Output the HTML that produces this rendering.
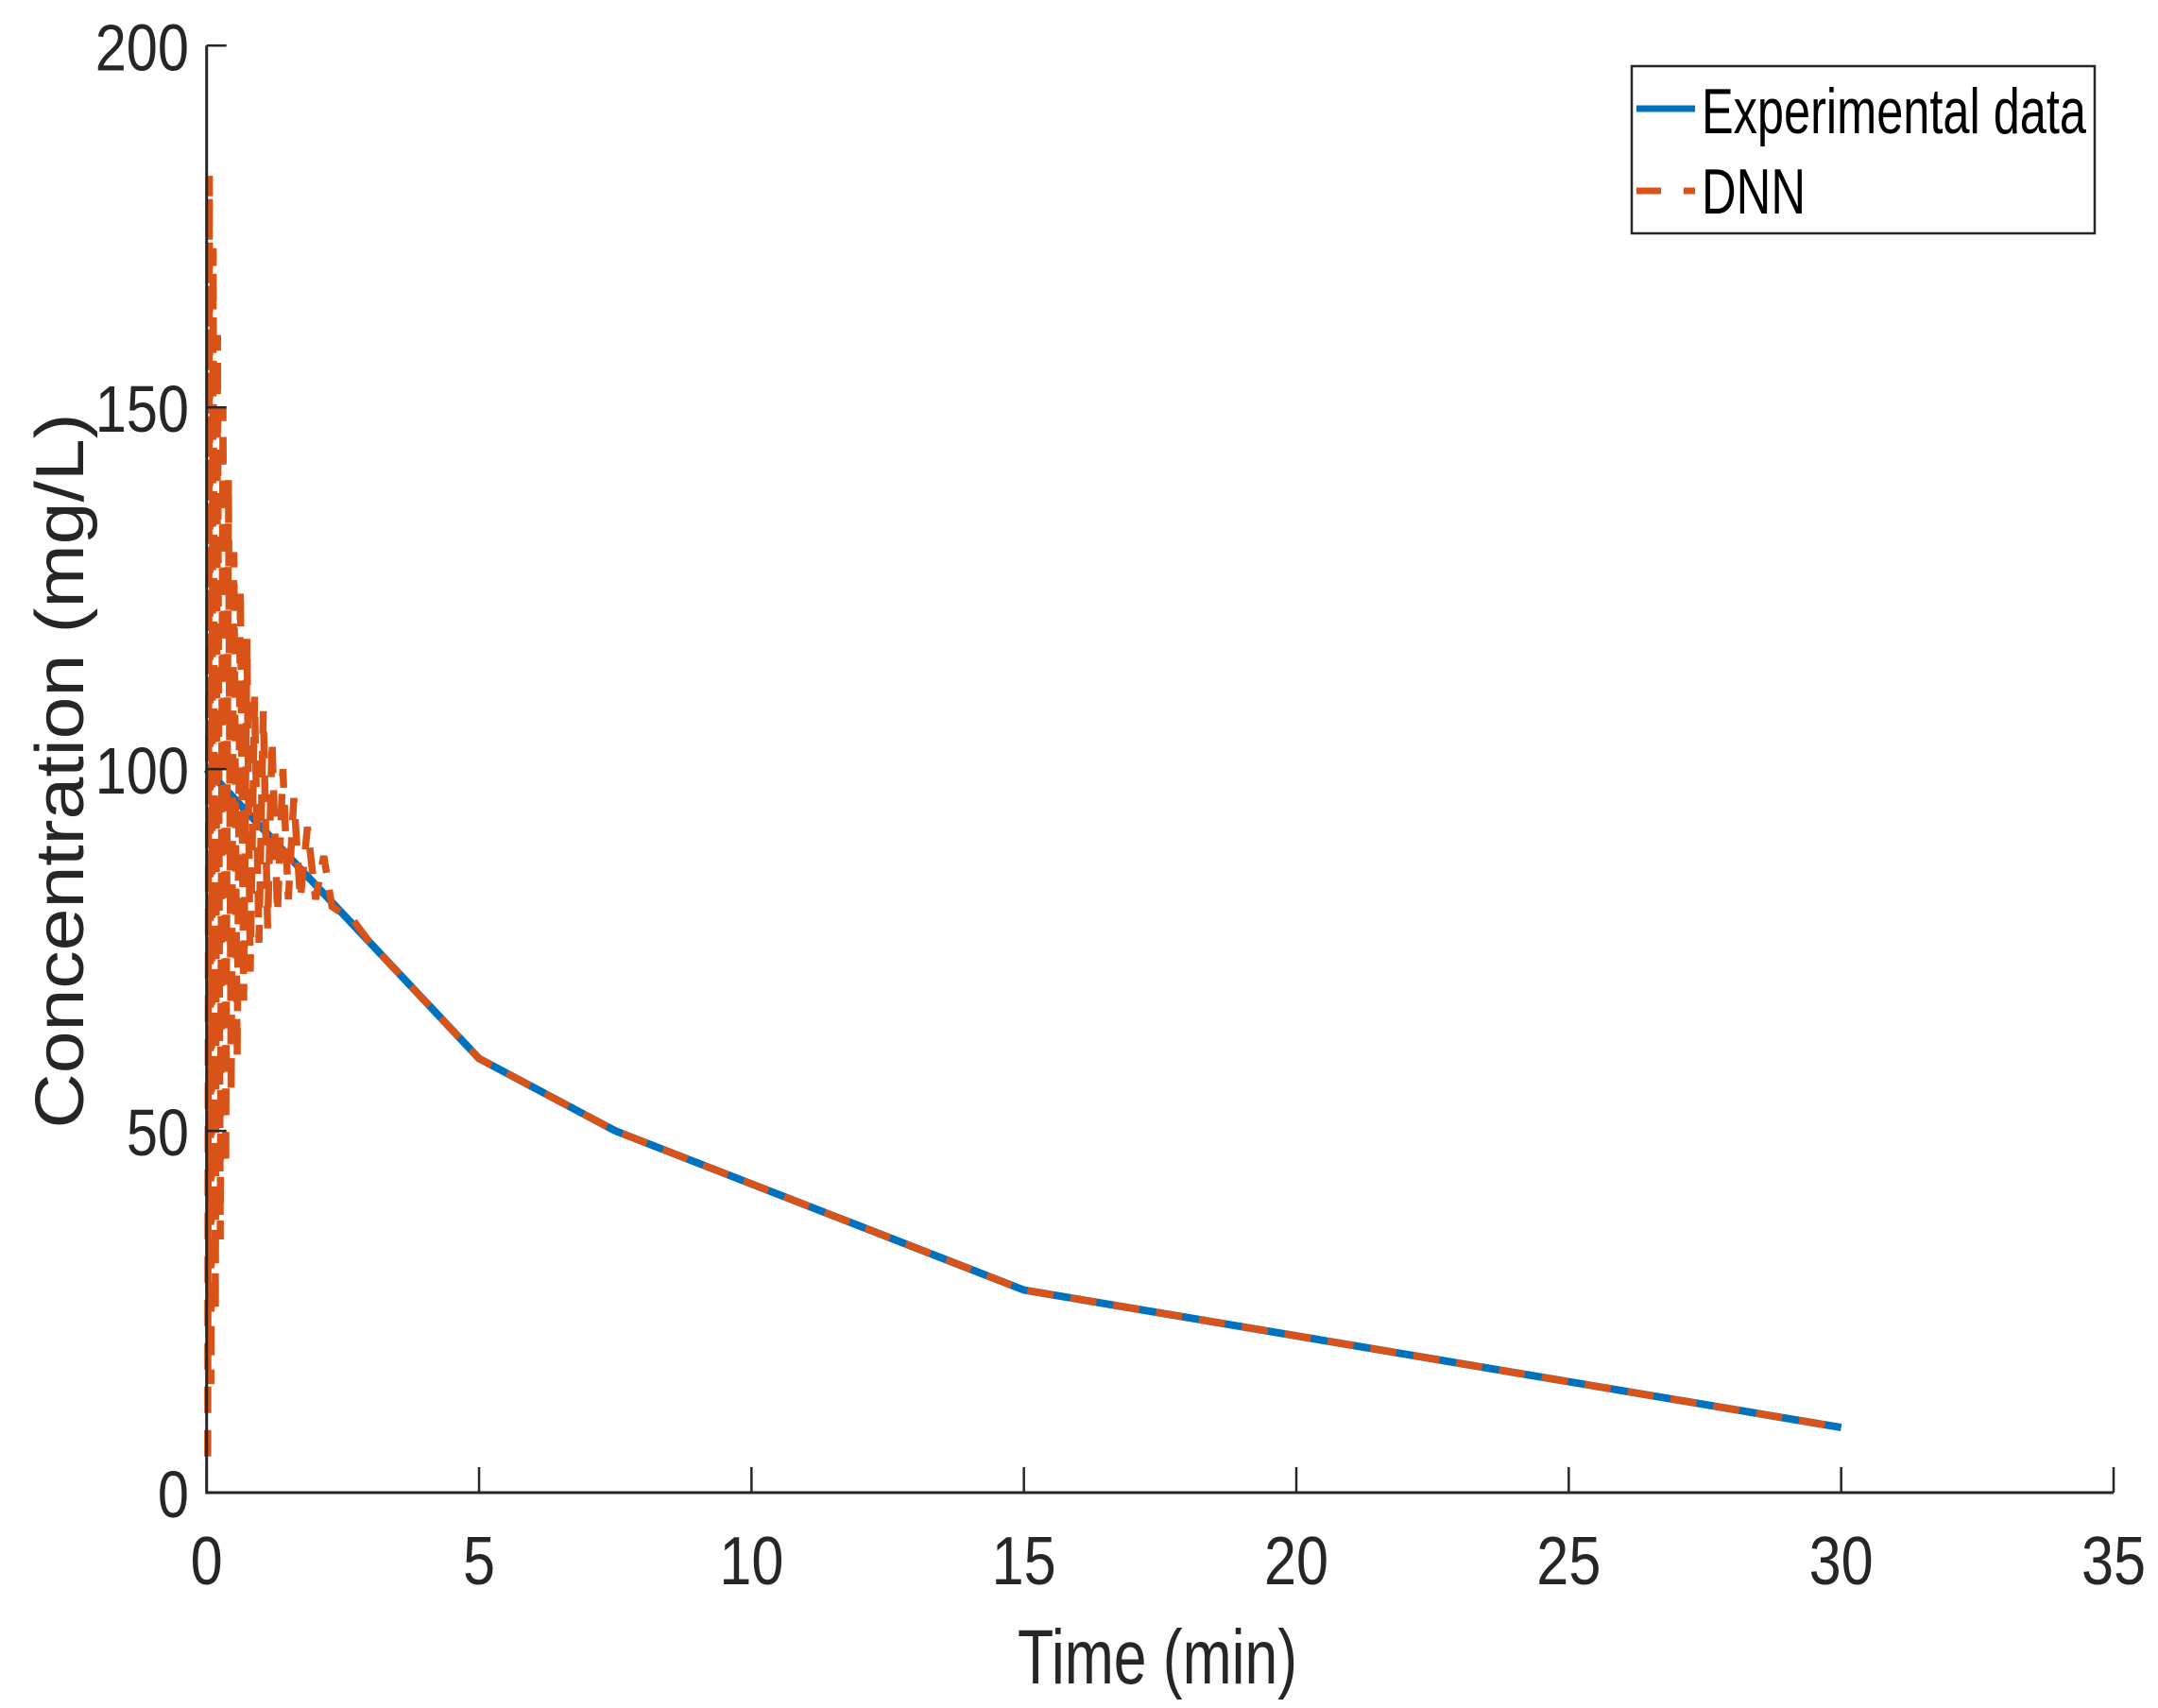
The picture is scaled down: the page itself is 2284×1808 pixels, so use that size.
<!DOCTYPE html>
<html><head><meta charset="utf-8"><style>
html,body{margin:0;padding:0;background:#fff;}
svg{display:block;}
text{font-family:"Liberation Sans",sans-serif;fill:#262626;}
</style></head><body>
<svg id="chart" width="2284" height="1808" viewBox="0 0 2284 1808" xmlns="http://www.w3.org/2000/svg">
<g id="plot"></g>
<g id="axes"></g>
<text x="1225" y="1782" font-size="82" text-anchor="middle" textLength="296" lengthAdjust="spacingAndGlyphs">Time (min)</text>
<text transform="translate(88,816) rotate(-90)" font-size="72" text-anchor="middle" textLength="757" lengthAdjust="spacingAndGlyphs">Concentration (mg/L)</text>
<g>
<rect x="1727" y="70" width="490" height="177" fill="#fff" stroke="#262626" stroke-width="2.5"/>
<line x1="1732" y1="115" x2="1794" y2="115" stroke="#0072BD" stroke-width="7"/>
<text x="1801" y="141" font-size="68" textLength="407" lengthAdjust="spacingAndGlyphs" style="fill:#000">Experimental data</text>
<line x1="1732" y1="202" x2="1794" y2="202" stroke="#D95319" stroke-width="7" stroke-dasharray="26 24"/>
<text x="1801" y="226" font-size="68" textLength="110" lengthAdjust="spacingAndGlyphs" style="fill:#000">DNN</text>
</g>
</svg>
<script>
const expT = [0, 5, 7.5, 15, 30];
const expY = [100, 60, 50, 28, 9];
const dnnT = [0.02,0.05,0.08,0.12,0.16,0.2,0.25,0.3,0.35,0.4,0.45,0.5,0.56,0.62,0.68,0.74,0.8,0.88,0.96,1.04,1.12,1.2,1.3,1.4,1.5,1.6,1.72,1.85,2.0,2.15,2.3,2.5,2.7,3.0,4,5,7.5,15,30];
const dnnY = [5,182,15,172,25,160,35,150,45,140,55,130,60,125,68,118,72,110,76,108,78,104,80,100,82,96,82,92,82,88,81,80,79,76,68,60,50,28,9];
const xTicks = [0,5,10,15,20,25,30,35];
const yTicks = [0,50,100,150,200];

const X0=218.7, X1=2237, Y0=1580, Y1=48.3;
const sx = v => X0 + (v/35)*(X1-X0);
const sy = v => Y0 - (v/200)*(Y0-Y1);
const NS="http://www.w3.org/2000/svg";
const plot=document.getElementById('plot'), axes=document.getElementById('axes');
function mk(tag, attrs, parent){const e=document.createElementNS(NS,tag);for(const k in attrs)e.setAttribute(k,attrs[k]);parent.appendChild(e);return e;}

const pe = mk('polyline',{points:expT.map((t,i)=>sx(t)+','+sy(expY[i])).join(' '),fill:'none',stroke:'#0072BD','stroke-width':8,'stroke-linejoin':'round'},plot);


const pd = mk('polyline',{points:dnnT.map((t,i)=>sx(t)+','+sy(dnnY[i])).join(' '),fill:'none',stroke:'#D95319','stroke-width':7.5,'stroke-dasharray':'28 18'},plot);



const xa = mk('line',{x1:X0,y1:Y0,x2:X1,y2:Y0,stroke:'#262626','stroke-width':3},axes);


const ya = mk('line',{x1:X0,y1:Y0+1.5,x2:X0,y2:Y1,stroke:'#262626','stroke-width':3},axes);


xTicks.forEach(v=>{
  const t=mk('line',{x1:sx(v),y1:Y0,x2:sx(v),y2:Y0-27,stroke:'#262626','stroke-width':2.5},axes);
  
  
  const l=mk('text',{x:sx(v),y:1677,'font-size':72,'text-anchor':'middle'},axes);
  
  
  l.setAttribute('transform',`translate(${sx(v)},0) scale(0.85,1) translate(${-sx(v)},0)`);
  l.textContent=v;
});
yTicks.forEach(v=>{
  const t=mk('line',{x1:X0,y1:sy(v),x2:X0+21,y2:sy(v),stroke:'#262626','stroke-width':2.5},axes);
  
  
  const l=mk('text',{x:200,y:sy(v)+26,'font-size':70,'text-anchor':'end'},axes);
  
  
  l.setAttribute('transform','translate(200,0) scale(0.85,1) translate(-200,0)');
  l.textContent=v;
});
</script>
</body></html>
